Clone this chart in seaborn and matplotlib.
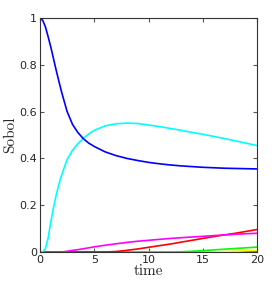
import pandas as pd
import matplotlib
matplotlib.use("Agg")
import matplotlib.pyplot as plt
import seaborn as sns

t = [0, 0.25, 0.5, 0.75, 1, 1.25, 1.5, 1.75, 2, 2.5, 3, 3.5, 4, 4.5, 5,
     6, 7, 8, 9, 10, 11, 12, 13, 14, 15, 16, 17, 18, 19, 20]
blue = [1.0, 0.99, 0.962, 0.92, 0.875, 0.825, 0.775, 0.728, 0.682, 0.60, 0.545, 0.51, 0.484, 0.465, 0.451,
        0.428, 0.412, 0.400, 0.391, 0.383, 0.377, 0.372, 0.368, 0.365, 0.362, 0.36, 0.358, 0.357, 0.356, 0.355]
cyan = [0.0, 0.0, 0.015, 0.06, 0.13, 0.19, 0.245, 0.29, 0.33, 0.395, 0.435, 0.463, 0.486, 0.505, 0.52,
        0.539, 0.548, 0.551, 0.549, 0.543, 0.536, 0.528, 0.52, 0.511, 0.503, 0.494, 0.485, 0.475, 0.465, 0.455]
magenta = [0, 0, 0, 0, 0, 0, 0, 0, 0, 0.003, 0.007, 0.01, 0.014, 0.018, 0.022,
           0.029, 0.035, 0.041, 0.046, 0.05, 0.054, 0.058, 0.061, 0.064, 0.067, 0.07, 0.073, 0.076, 0.078, 0.08]
red = [0, 0, 0, 0, 0, 0, 0, 0, 0, 0, 0, 0, 0, 0, 0,
       0, 0.002, 0.007, 0.013, 0.02, 0.027, 0.034, 0.042, 0.05, 0.058, 0.066, 0.073, 0.08, 0.088, 0.096]
green = [0, 0, 0, 0, 0, 0, 0, 0, 0, 0, 0, 0, 0, 0, 0,
         0, 0, 0, 0, 0, 0, 0, 0.001, 0.003, 0.006, 0.009, 0.012, 0.015, 0.018, 0.021]
yellow = [0, 0, 0, 0, 0, 0, 0, 0, 0, 0, 0, 0, 0, 0, 0,
          0, 0, 0, 0, 0, 0, 0, 0, 0, 0, 0.001, 0.002, 0.003, 0.005, 0.006]
black = [0] * len(t)

series = {"black": black, "yellow": yellow, "green": green, "red": red,
          "magenta": magenta, "cyan": cyan, "blue": blue}
colors = {"black": "#000000", "yellow": "#ffff00", "green": "#00ff00", "red": "#ff0000",
          "magenta": "#ff00ff", "cyan": "#00ffff", "blue": "#0000ff"}

df = pd.concat([pd.DataFrame({"time": t, "Sobol": v, "s": k}) for k, v in series.items()])

sns.set_style("white")
fig = plt.figure(figsize=(2.75, 2.89), dpi=100)
ax = fig.add_axes([40 / 275, 37 / 289, 217 / 275, 234 / 289])
sns.lineplot(data=df, x="time", y="Sobol", hue="s", palette=colors, linewidth=1.2,
             legend=False, ax=ax)
ax.set_xlim(0, 20)
ax.set_ylim(0, 1)
ax.set_xticks([0, 5, 10, 15, 20])
ax.set_yticks([0, 0.2, 0.4, 0.6, 0.8, 1])
ax.set_yticklabels(["0", "0.2", "0.4", "0.6", "0.8", "1"])
ax.tick_params(direction="in", length=3, labelsize=8, pad=2, top=True, right=True,
               bottom=True, left=True, color="#555555")
for sp in ax.spines.values():
    sp.set_color("#333333")
    sp.set_linewidth(0.8)
ax.set_xlabel("time", family="cmr10", fontsize=11, labelpad=0)
ax.set_ylabel("Sobol", family="cmr10", fontsize=11, labelpad=2)
fig.savefig("out.png", dpi=100)
